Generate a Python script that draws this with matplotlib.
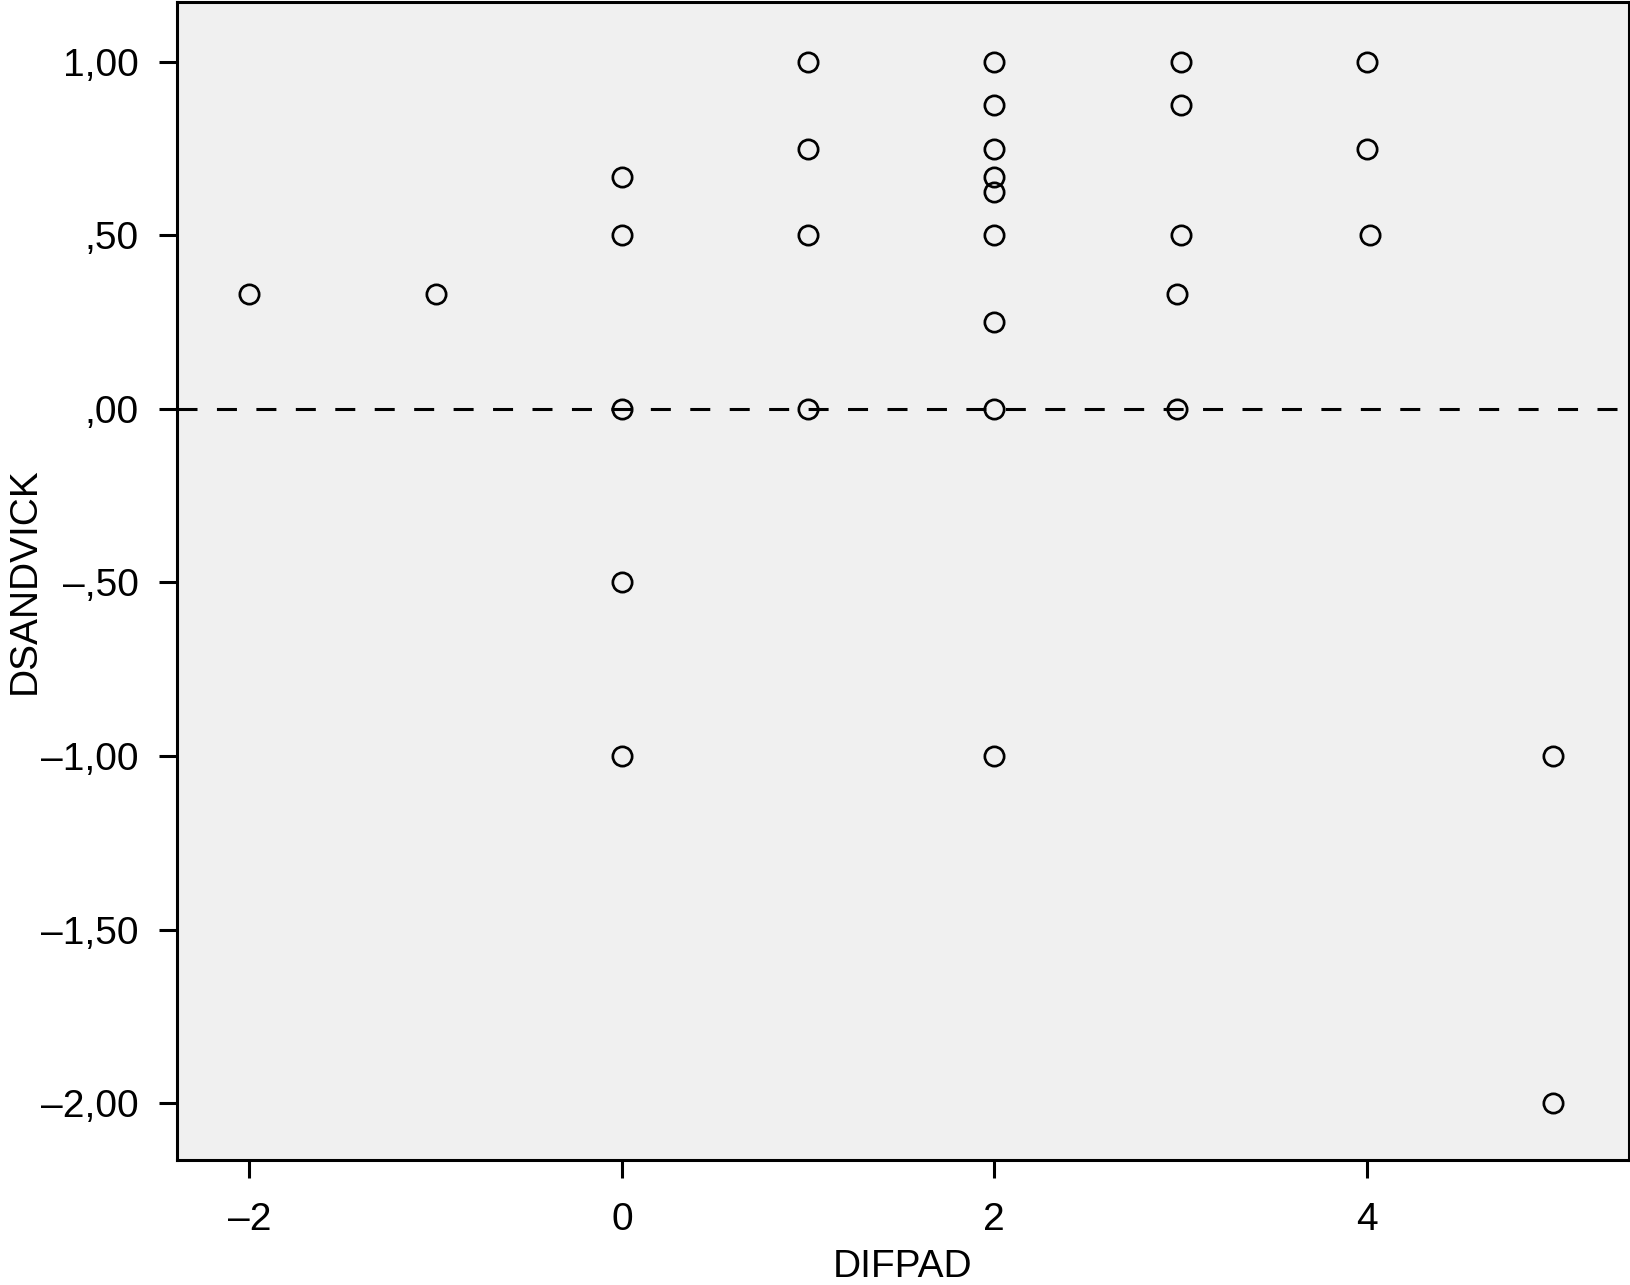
import matplotlib.pyplot as plt
import numpy as np

plt.rcParams['font.family'] = ['Liberation Sans', 'DejaVu Sans']

# data (DIFPAD vs DSANDVICK)
difpad = [-2, -1,
          0, 0, 0, 0, 0,
          1, 1, 1, 1,
          2, 2, 2, 2, 2, 2, 2, 2, 2,
          3.0, 3.0, 3.0, 2.98, 2.98,
          4, 4, 4.02,
          5, 5]
dsandvick = [0.33, 0.33,
             0.667, 0.5, 0.0, -0.5, -1.0,
             1.0, 0.75, 0.5, 0.0,
             1.0, 0.875, 0.75, 0.667, 0.625, 0.5, 0.25, 0.0, -1.0,
             1.0, 0.875, 0.5, 0.33, 0.0,
             1.0, 0.75, 0.5,
             -1.0, -2.0]

xticks = [-2, 0, 2, 4]
yticks = [1.0, 0.5, 0.0, -0.5, -1.0, -1.5, -2.0]
ytick_labels = ['1,00', ',50', ',00', '\u2013,50', '\u20131,00', '\u20131,50', '\u20132,00']
xtick_labels = ['\u20132', '0', '2', '4']

fig = plt.figure(figsize=(16.3, 12.85), dpi=100)
ax = fig.add_axes([0.1084, 0.0973, 0.8907, 0.9015])
ax.set_facecolor('#f0f0f0')

lw = 2.2
ax.axhline(0, color='black', lw=lw, linestyle=(0, (14.4/lw, 14.0/lw)), zorder=2)
ax.plot(difpad, dsandvick, 'o', ms=13.9, mfc='none', mec='black', mew=1.95,
        linestyle='none', zorder=3, clip_on=False)

ax.set_xlim(-2.391, 5.406)
ax.set_ylim(-2.164, 1.174)
ax.set_xticks(xticks)
ax.set_xticklabels(xtick_labels)
ax.set_yticks(yticks)
ax.set_yticklabels(ytick_labels)

for s in ax.spines.values():
    s.set_linewidth(lw)
ax.tick_params(axis='both', direction='out', length=13, width=2.2,
               labelsize=28, color='black')
ax.tick_params(axis='x', pad=17)
ax.tick_params(axis='y', pad=14.5)

ax.set_xlabel('DIFPAD', fontsize=28)
ax.set_ylabel('DSANDVICK', fontsize=28)
ax.xaxis.set_label_coords(0.5, -0.0768)
ax.yaxis.set_label_coords(-0.0924, 0.5)

plt.savefig('out.png', dpi=100)
